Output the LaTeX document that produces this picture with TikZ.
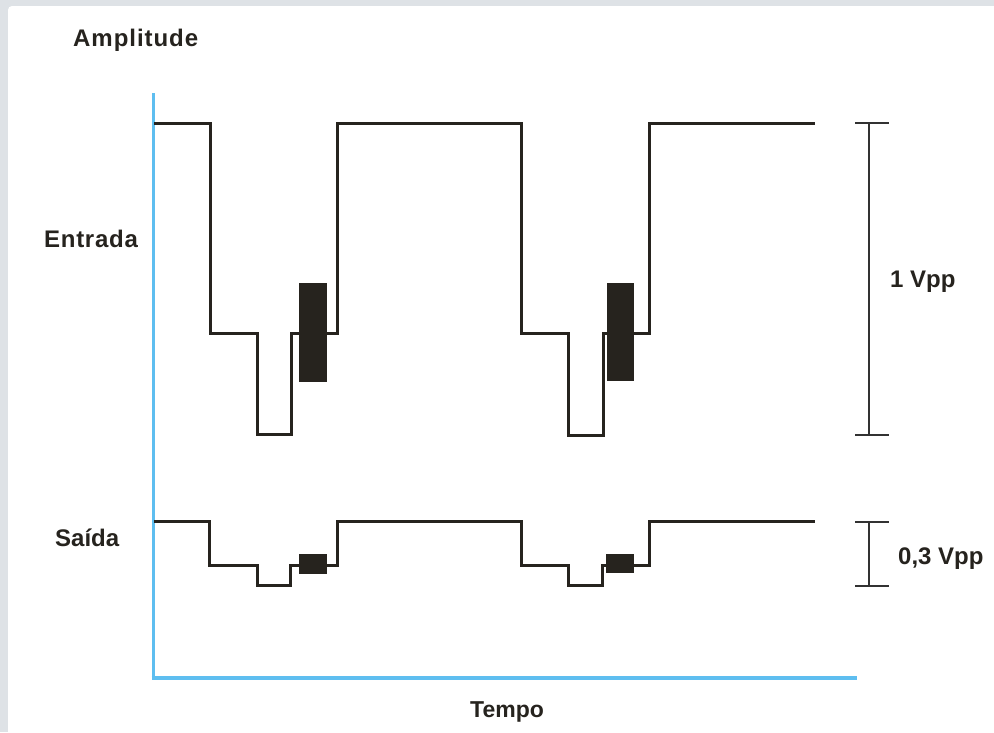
\documentclass[tikz,border=0pt]{standalone}
\usepackage{fontspec}
\setmainfont{Liberation Sans}
\definecolor{bggray}{RGB}{222,226,230}
\definecolor{axisblue}{RGB}{94,190,240}
\definecolor{wave}{RGB}{38,35,30}
\definecolor{bar}{RGB}{50,50,50}
\begin{document}
\begin{tikzpicture}[x=1pt,y=-1pt,
  lbl/.style={font=\fontsize{24}{28}\selectfont\bfseries, text=wave, inner sep=0pt, anchor=base west},
  axisline/.style={draw=axisblue},
  waveline/.style={draw=wave, line width=3pt, line join=miter},
  blob/.style={fill=wave},
  scalebar/.style={draw=bar, line width=1.2pt}]
\useasboundingbox (0,0) rectangle (994,732);
\fill[bggray] (0,0) rectangle (994,732);
\fill[white, rounded corners=4pt] (8,6) rectangle (1010,750);
% axes
\coordinate (ytop) at (153,93);
\coordinate (orig) at (153,678);
\coordinate (xend) at (857,678);
\draw[axisline, line width=3pt] (ytop) -- (orig);
\draw[axisline, line width=4pt] ([xshift=-1.5pt]orig) -- (xend);
% labels
\node[lbl, font=\fontsize{24}{28}\selectfont\bfseries\addfontfeature{LetterSpace=4}] (amp) at (73,46) {Amplitude};
\node[lbl, font=\fontsize{24}{28}\selectfont\bfseries\addfontfeature{LetterSpace=3}] (ent) at (44,247) {Entrada};
\node[lbl] (sai) at (55,546) {Saída};
\node[lbl, font=\fontsize{23}{27}\selectfont\bfseries] (tem) at (470,717) {Tempo};
\node[lbl] (v1) at (890,287) {1 Vpp};
\node[lbl] (v03) at (898,564) {0,3 Vpp};
% input waveform
\draw[waveline] (154,123) -- (210,123) -- (210,333) -- (257,333) -- (257,434) -- (291,434) -- (291,333) -- (337,333) -- (337,123)
  -- (521,123) -- (521,333) -- (568,333) -- (568,435) -- (603,435) -- (603,333) -- (649,333) -- (649,123) -- (815,123);
\fill[blob] (299,283) rectangle (327,382);
\fill[blob] (607,283) rectangle (634,381);
% output waveform
\draw[waveline] (154,521) -- (209,521) -- (209,565) -- (257,565) -- (257,585) -- (290,585) -- (290,565) -- (337,565) -- (337,521)
  -- (521,521) -- (521,565) -- (568,565) -- (568,585) -- (602,585) -- (602,565) -- (649,565) -- (649,521) -- (815,521);
\fill[blob] (299,554) rectangle (327,574);
\fill[blob] (606,554) rectangle (634,573);
% scale bars
\draw[scalebar] (869,123) -- (869,435);
\draw[scalebar] (855,123) -- (889,123);
\draw[scalebar] (855,435) -- (889,435);
\draw[scalebar] (869,522) -- (869,586);
\draw[scalebar] (855,522) -- (889,522);
\draw[scalebar] (855,586) -- (889,586);
\end{tikzpicture}
\end{document}
